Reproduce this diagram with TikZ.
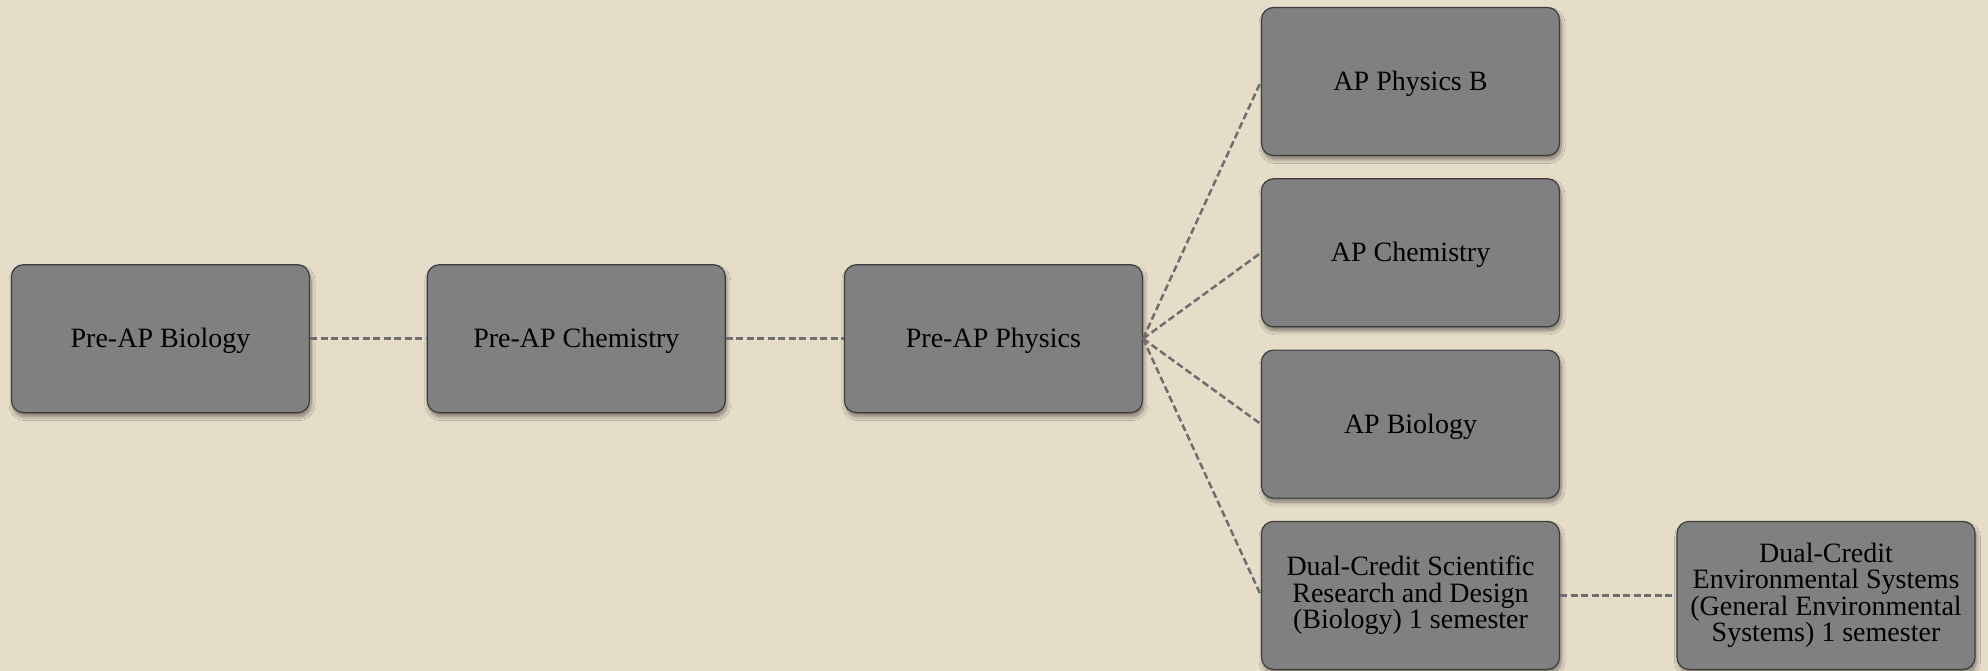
\documentclass[tikz,border=0pt]{standalone}
\usepackage{fontspec}
\setmainfont{Liberation Serif}
\usetikzlibrary{shadows.blur}
\definecolor{bgc}{HTML}{E5DDC8}
\definecolor{boxfill}{HTML}{808080}
\definecolor{boxline}{HTML}{3C3C3C}
\definecolor{linkc}{HTML}{6E6E6E}
\begin{document}
\begin{tikzpicture}[x=1pt,y=-1pt,
  box/.style={draw=boxline, line width=1.2pt, fill=boxfill, rounded corners=12pt,
    minimum width=298pt, minimum height=148pt, inner sep=0pt, align=center,
    font=\fontsize{28}{26.5}\selectfont,
    blur shadow={shadow xshift=1.5pt, shadow yshift=-4pt, shadow blur radius=4pt,
      shadow blur steps=8, shadow opacity=45}},
  oneline/.style={box, text height=22pt, text depth=4pt},
  link/.style={draw=linkc, line width=2.5pt, dash pattern=on 7pt off 3.5pt}]
\fill[bgc] (0,0) rectangle (1988,671);
\useasboundingbox (0,0) rectangle (1988,671);
\node[oneline] (prebio) at (160.5,338.7) {Pre-AP Biology};
\node[oneline] (prechem) at (576.3,338.7) {Pre-AP Chemistry};
\node[oneline] (prephys) at (993.4,338.7) {Pre-AP Physics};
\node[oneline] (apphys) at (1410.5,81.5) {AP Physics B};
\node[oneline] (apchem) at (1410.5,252.8) {AP Chemistry};
\node[oneline] (apbio) at (1410.5,424.1) {AP Biology};
\node[box] (dcsrd) at (1410.5,595.4) {Dual-Credit Scientific\\Research and Design\\(Biology) 1 semester};
\node[box] (dcenv) at (1826,595.4) {Dual-Credit\\Environmental Systems\\(General Environmental\\Systems) 1 semester};
\draw[link] (prebio.east) -- (prechem.west);
\draw[link] (prechem.east) -- (prephys.west);
\draw[link] (prephys.east) -- (apphys.west);
\draw[link] (prephys.east) -- (apchem.west);
\draw[link] (prephys.east) -- (apbio.west);
\draw[link] (prephys.east) -- (dcsrd.west);
\draw[link] (dcsrd.east) -- (dcenv.west);
\end{tikzpicture}
\end{document}
